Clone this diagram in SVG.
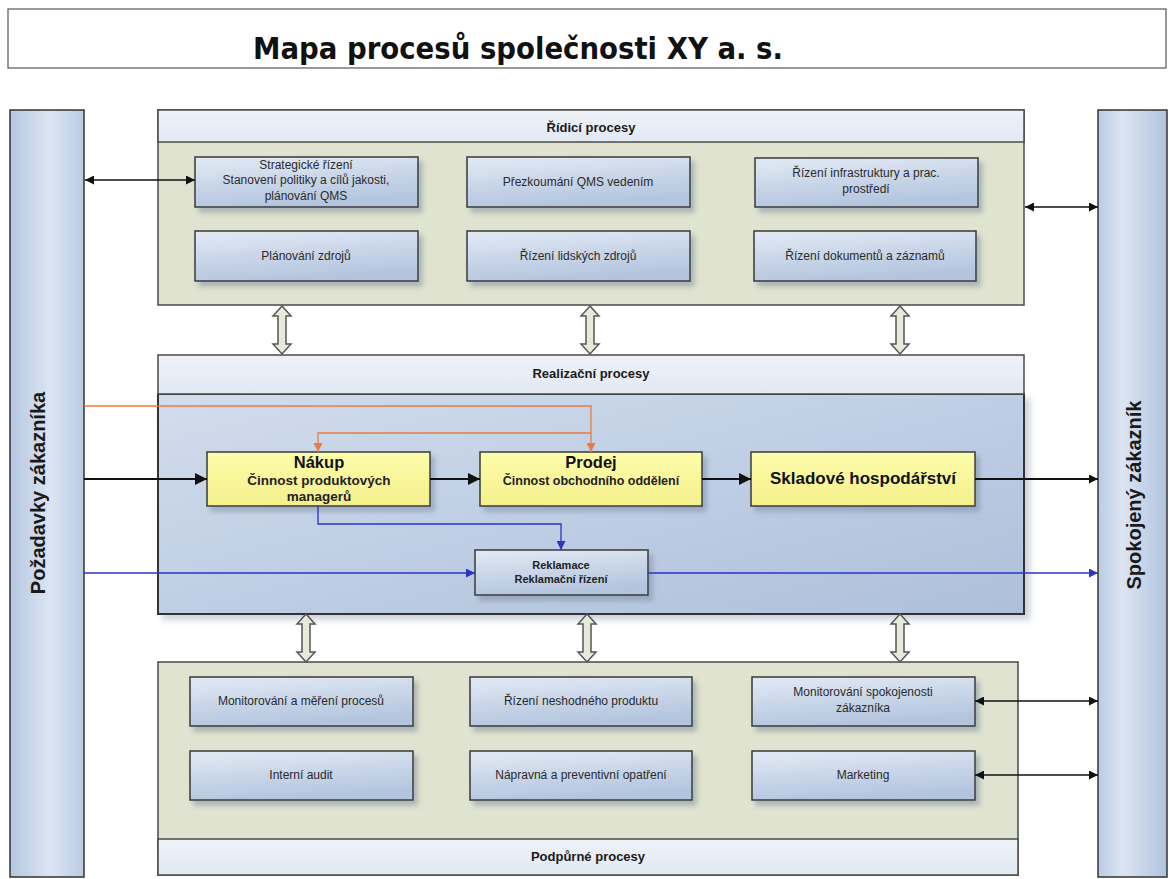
<svg xmlns="http://www.w3.org/2000/svg" width="1171" height="879" viewBox="0 0 1171 879">
<defs>
<style>
text{font-family:"Liberation Sans",Arial,sans-serif;text-anchor:middle}
.lbl{font-size:12px;fill:#2a2a2a}
.hdr{font-size:13px;font-weight:bold;fill:#1a1a1a}
.box{fill:url(#gBox);stroke:#3a3a3a;stroke-width:1.5;filter:url(#sh)}
.ybox{fill:url(#gY);stroke:#3a3a3a;stroke-width:1.5;filter:url(#sh)}
.panel{fill:#dfe3cf;stroke:#4a4a4a;stroke-width:1.5}
.head{fill:url(#gHead);stroke:#4a4a4a;stroke-width:1.5}
.bar{stroke:#333;stroke-width:1.5}
.dbl{fill:#e7e9d9;stroke:#555;stroke-width:1.5}
.blk{fill:none;stroke:#111;stroke-width:2.2}
.thin{fill:none;stroke:#111;stroke-width:1.5}
.org{fill:none;stroke:#ec7b3e;stroke-width:1.3}
.blu{fill:none;stroke:#2a35c4;stroke-width:1.3}
.vt{font-size:20px;font-weight:bold;fill:#1a1a1a}
.ttl{font-family:"Liberation Sans Narrow","DejaVu Sans Condensed","Liberation Sans",sans-serif;font-size:31px;font-weight:bold;fill:#111}
</style>
<linearGradient id="gBox" x1="0" y1="0" x2="0.3" y2="1">
<stop offset="0" stop-color="#e3eaf5"/><stop offset="1" stop-color="#b3c5de"/>
</linearGradient>
<linearGradient id="gY" x1="0" y1="0" x2="0" y2="1">
<stop offset="0" stop-color="#fdfcaa"/><stop offset="1" stop-color="#f5f08c"/>
</linearGradient>
<linearGradient id="gHead" x1="0" y1="0" x2="0" y2="1">
<stop offset="0" stop-color="#eef2f8"/><stop offset="1" stop-color="#e2e9f3"/>
</linearGradient>
<linearGradient id="gBody" x1="0" y1="0" x2="1" y2="1">
<stop offset="0" stop-color="#d2ddec"/><stop offset="0.5" stop-color="#bfcee4"/><stop offset="1" stop-color="#aebfda"/>
</linearGradient>
<linearGradient id="gBarL" x1="0" y1="0" x2="1" y2="0">
<stop offset="0" stop-color="#b4c7e1"/><stop offset="0.55" stop-color="#dce5f2"/><stop offset="1" stop-color="#b9cbe3"/>
</linearGradient>
<linearGradient id="gBarR" x1="0" y1="0" x2="1" y2="0">
<stop offset="0" stop-color="#b9cbe3"/><stop offset="0.35" stop-color="#dce5f2"/><stop offset="1" stop-color="#b0c3de"/>
</linearGradient>
<filter id="sh" x="-10%" y="-20%" width="130%" height="160%">
<feDropShadow dx="4" dy="5" stdDeviation="2.5" flood-color="#6f7f96" flood-opacity="0.45"/>
</filter>
<filter id="shp" x="-5%" y="-5%" width="110%" height="115%">
<feDropShadow dx="5" dy="5" stdDeviation="3" flood-color="#8090a8" flood-opacity="0.4"/>
</filter>
<marker id="ab" viewBox="0 0 10 10" refX="10" refY="5" markerWidth="12" markerHeight="12" markerUnits="userSpaceOnUse" orient="auto-start-reverse">
<path d="M0,0 L10,5 L0,10 z" fill="#111"/></marker>
<marker id="as" viewBox="0 0 10 10" refX="10" refY="5" markerWidth="9" markerHeight="9" markerUnits="userSpaceOnUse" orient="auto-start-reverse">
<path d="M0,0 L10,5 L0,10 z" fill="#111"/></marker>
<marker id="ao" viewBox="0 0 10 10" refX="10" refY="5" markerWidth="9" markerHeight="9" markerUnits="userSpaceOnUse" orient="auto">
<path d="M0,0 L10,5 L0,10 z" fill="#ec7b3e"/></marker>
<marker id="abl" viewBox="0 0 10 10" refX="10" refY="5" markerWidth="9" markerHeight="9" markerUnits="userSpaceOnUse" orient="auto">
<path d="M0,0 L10,5 L0,10 z" fill="#2a35c4"/></marker>
<path id="dblArrow" class="dbl" d="M0,0 L9,10 L4,10 L4,38 L9,38 L0,48 L-9,38 L-4,38 L-4,10 L-9,10 Z"/>
</defs>

<rect width="1171" height="879" fill="#ffffff"/>

<g id="title">
<rect x="8" y="9" width="1158" height="59" fill="#fff" stroke="#555" stroke-width="1.2"/>
<text class="ttl" x="518" y="59" textLength="530" lengthAdjust="spacingAndGlyphs">Mapa procesů společnosti XY a. s.</text>
</g>

<g id="pozadavky">
<rect class="bar" x="10" y="110" width="74" height="767" fill="url(#gBarL)"/>
<text class="vt" transform="translate(45,493) rotate(-90)">Požadavky zákazníka</text>
</g>
<g id="spokojeny">
<rect class="bar" x="1098" y="110" width="69" height="767" fill="url(#gBarR)"/>
<text class="vt" transform="translate(1141,495) rotate(-90)">Spokojený zákazník</text>
</g>

<g id="ridici">
<rect class="panel" x="158" y="110" width="866" height="195"/>
<rect class="head" x="158" y="110" width="866" height="32"/>
<text class="hdr" x="591" y="132">Řídicí procesy</text>
</g>
<g id="strategicke"><rect class="box" x="195" y="157" width="223" height="50"/>
<text class="lbl" x="306" y="169">Strategické řízení</text><text class="lbl" x="306" y="184">Stanovení politiky a cílů jakosti,</text><text class="lbl" x="306" y="200">plánování QMS</text></g>
<g id="prezkoumani"><rect class="box" x="467" y="157" width="223" height="50"/>
<text class="lbl" x="578" y="186">Přezkoumání QMS vedením</text></g>
<g id="infrastruktura"><rect class="box" x="755" y="158" width="223" height="49"/>
<text class="lbl" x="866" y="177">Řízení infrastruktury a prac.</text><text class="lbl" x="866" y="193">prostředí</text></g>
<g id="planovani"><rect class="box" x="195" y="231" width="223" height="50"/>
<text class="lbl" x="306" y="260">Plánování zdrojů</text></g>
<g id="lidske"><rect class="box" x="467" y="231" width="223" height="50"/>
<text class="lbl" x="578" y="260">Řízení lidských zdrojů</text></g>
<g id="dokumenty"><rect class="box" x="754" y="231" width="222" height="50"/>
<text class="lbl" x="865" y="260">Řízení dokumentů a záznamů</text></g>

<g id="realizacni">
<rect x="158" y="394" width="866" height="220" fill="url(#gBody)" stroke="#333" stroke-width="2" filter="url(#shp)"/>
<rect class="head" x="158" y="355" width="866" height="39"/>
<text class="hdr" x="591" y="378">Realizační procesy</text>
</g>
<g id="nakup"><rect class="ybox" x="207" y="452" width="223" height="54"/>
<text x="319" y="468" font-size="16.5" font-weight="bold" fill="#111">Nákup</text>
<text x="319" y="485" font-size="13.5" font-weight="bold" fill="#222">Činnost produktových</text>
<text x="319" y="501" font-size="13.5" font-weight="bold" fill="#222">managerů</text></g>
<g id="prodej"><rect class="ybox" x="480" y="452" width="222" height="54"/>
<text x="591" y="468" font-size="16.5" font-weight="bold" fill="#111">Prodej</text>
<text x="591" y="485" font-size="12.5" font-weight="bold" fill="#222">Činnost obchodního oddělení</text></g>
<g id="sklad"><rect class="ybox" x="751" y="452" width="224" height="54"/>
<text x="863" y="484" font-size="17" font-weight="bold" fill="#111">Skladové hospodářství</text></g>
<g id="reklamace"><rect class="box" x="475" y="550" width="173" height="45"/>
<text x="561" y="569" font-size="11" font-weight="bold" fill="#222">Reklamace</text>
<text x="561" y="583" font-size="11" font-weight="bold" fill="#222">Reklamační řízení</text></g>

<g id="podpurne">
<rect class="panel" x="158" y="662" width="860" height="213"/>
<rect class="head" x="158" y="839" width="860" height="36"/>
<text class="hdr" x="588" y="861">Podpůrné procesy</text>
</g>
<g id="monitorovani"><rect class="box" x="190" y="677" width="223" height="49"/>
<text class="lbl" x="301" y="705">Monitorování a měření procesů</text></g>
<g id="neshodny"><rect class="box" x="470" y="677" width="222" height="49"/>
<text class="lbl" x="581" y="705">Řízení neshodného produktu</text></g>
<g id="spokojenost"><rect class="box" x="752" y="677" width="223" height="49"/>
<text class="lbl" x="863" y="696">Monitorování spokojenosti</text><text class="lbl" x="863" y="712">zákazníka</text></g>
<g id="audit"><rect class="box" x="190" y="751" width="223" height="49"/>
<text class="lbl" x="301" y="779">Interní audit</text></g>
<g id="napravna"><rect class="box" x="470" y="751" width="222" height="49"/>
<text class="lbl" x="581" y="779">Nápravná a preventivní opatření</text></g>
<g id="marketing"><rect class="box" x="752" y="751" width="223" height="49"/>
<text class="lbl" x="863" y="779">Marketing</text></g>

<g id="connectors">
<use href="#dblArrow" x="282" y="306"/>
<use href="#dblArrow" x="590" y="306"/>
<use href="#dblArrow" x="900" y="306"/>
<use href="#dblArrow" x="306" y="614"/>
<use href="#dblArrow" x="587" y="614"/>
<use href="#dblArrow" x="900" y="614"/>
<path class="thin" d="M85,180 H195" marker-start="url(#as)" marker-end="url(#as)"/>
<path class="thin" d="M1025,207 H1098" marker-start="url(#as)" marker-end="url(#as)"/>
<path class="thin" d="M975,701 H1098" marker-start="url(#as)" marker-end="url(#as)"/>
<path class="thin" d="M975,775 H1098" marker-start="url(#as)" marker-end="url(#as)"/>
<path class="blk" d="M84,479 H207" marker-end="url(#ab)"/>
<path class="blk" d="M430,479 H480" marker-end="url(#ab)"/>
<path class="blk" d="M702,479 H751" marker-end="url(#ab)"/>
<path class="blk" d="M975,479 H1098" marker-end="url(#as)"/>
<path class="org" d="M84,406 H591 V452" marker-end="url(#ao)"/>
<path class="org" d="M591,433 H318 V452" marker-end="url(#ao)"/>
<path class="blu" d="M318,506 V524 H561 V550" marker-end="url(#abl)"/>
<path class="blu" d="M84,573 H475" marker-end="url(#abl)"/>
<path class="blu" d="M648,573 H1098" marker-end="url(#abl)"/>
</g>
</svg>
